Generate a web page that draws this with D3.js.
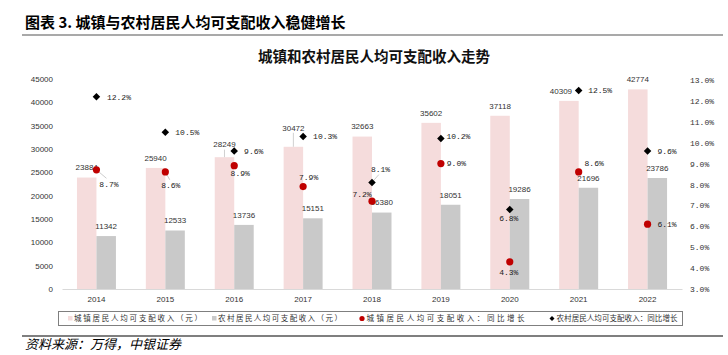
<!DOCTYPE html>
<html>
<head>
<meta charset="utf-8">
<script src="https://cdn.jsdelivr.net/npm/d3@7/dist/d3.min.js"></script>
<style>
html,body{margin:0;padding:0;background:#fff;}
svg{display:block;}
</style>
</head>
<body>
<svg id="c" width="728" height="355"></svg>
<script>
// ---- data ----
const years = ["2014","2015","2016","2017","2018","2019","2020","2021","2022"];
const urbanIncome = [23884, 25940, 28249, 30472, 32663, 35602, 37118, 40309, 42774];
const ruralIncome = [11342, 12533, 13736, 15151, 16380, 18051, 19286, 21696, 23786];
const urbanGrowth = [8.7, 8.6, 8.9, 7.9, 7.2, 9.0, 4.3, 8.6, 6.1];
const ruralGrowth = [12.2, 10.5, 9.6, 10.3, 8.1, 10.2, 6.8, 12.5, 9.6];
const leftTicks = [0,5000,10000,15000,20000,25000,30000,35000,40000,45000];
const rightTicks = [3,4,5,6,7,8,9,10,11,12,13];
const seriesNames = ["城镇居民人均可支配收入（元）","农村居民人均可支配收入（元）","城镇居民人均可支配收入：同比增长","农村居民人均可支配收入：同比增长"];

// ---- label layout (annotation offsets, relative to marks) ----
const urbanBarLabelOff = [[0,-10,0],[0,-10,0],[0,-12.5,1],[0,-19,1],[0,-10,0],[0,-10,0],[0,-10,0],[-8,-10,0],[0,-10,0]];
const redLabelOff = [[12.5,14,1],[5.5,13,1],[6,8,0],[5.5,-9,0],[-10,-7,0],[15.5,0,0],[-1,10,0],[15.5,-9,0],[19.5,0,0]];
const blackLabelOff = [[22.5,0,0],[22,0,0],[19.5,0,0],[22,0,0],[8.5,-13,1],[17.5,-2,0],[-1,9,0],[21.5,0,0],[19.5,0,0]];

const svg = d3.select("#c");
const numFont = "'Liberation Sans', Arial, sans-serif";
const monoFont = "'Liberation Mono', 'DejaVu Sans Mono', monospace";
const cjkFont = "'Noto Sans CJK SC', sans-serif";

// header
svg.append("text").attr("x",25).attr("y",28).attr("font-family",cjkFont)
  .attr("font-size",15).attr("font-weight","bold").attr("fill","#000")
  .text("图表 3. 城镇与农村居民人均可支配收入稳健增长");
svg.append("line").attr("x1",22).attr("x2",723).attr("y1",35).attr("y2",35)
  .attr("stroke","#8c8c8c").attr("stroke-width",1.5);

// title
svg.append("text").attr("x",374).attr("y",62).attr("text-anchor","middle")
  .attr("font-family",cjkFont).attr("font-size",14.5).attr("font-weight","bold").attr("fill","#111")
  .text("城镇和农村居民人均可支配收入走势");

// scales
const x = d3.scaleBand().domain(years).range([62,682]);
const yL = d3.scaleLinear().domain([0,45000]).range([289,79]);
const yR = d3.scaleLinear().domain([3,13]).range([289,80]);
const bw = x.bandwidth()*0.283;
const cx = d => x(d) + x.bandwidth()/2;

// left axis
const gL = svg.append("g").attr("transform","translate(62,0)")
  .call(d3.axisLeft(yL).tickValues(leftTicks).tickSize(0).tickPadding(9).tickFormat(d3.format("d")));
gL.select(".domain").remove();
gL.selectAll("text").attr("font-family",numFont).attr("font-size",8).attr("fill","#333");

// right axis
const gR = svg.append("g").attr("transform","translate(682,0)")
  .call(d3.axisRight(yR).tickValues(rightTicks).tickSize(0).tickPadding(8).tickFormat(d => d.toFixed(1)+"%"));
gR.select(".domain").remove();
gR.selectAll("text").attr("font-family",monoFont).attr("font-size",8).attr("fill","#333");

// bars
svg.append("g").selectAll("rect").data(years).join("rect")
  .attr("x",d=>cx(d)-bw).attr("width",bw)
  .attr("y",(d,i)=>yL(urbanIncome[i])).attr("height",(d,i)=>yL(0)-yL(urbanIncome[i]))
  .attr("fill","#f5dcdc");
svg.append("g").selectAll("rect").data(years).join("rect")
  .attr("x",d=>cx(d)).attr("width",bw)
  .attr("y",(d,i)=>yL(ruralIncome[i])).attr("height",(d,i)=>yL(0)-yL(ruralIncome[i]))
  .attr("fill","#c9c9c9");

// bottom axis
const gB = svg.append("g").attr("transform","translate(0,289)")
  .call(d3.axisBottom(x).tickSize(0).tickPadding(7));
gB.select(".domain").attr("stroke","#d9d9d9").attr("stroke-width",1);
gB.selectAll("text").attr("font-family",numFont).attr("font-size",8).attr("fill","#333");

// bar labels
const lblG = svg.append("g").attr("font-family",numFont).attr("font-size",8).attr("fill","#333").attr("text-anchor","middle");
years.forEach((d,i)=>{
  const o = urbanBarLabelOff[i];
  const bx = cx(d)-bw/2, by = yL(urbanIncome[i]);
  if(o[2]){
    svg.append("line").attr("x1",bx).attr("x2",bx).attr("y1",by).attr("y2",by+o[1]+5)
      .attr("stroke","#d0d0d0").attr("stroke-width",1);
  }
  lblG.append("text").attr("x",bx+o[0]).attr("y",by+o[1]).attr("dy","0.35em").text(urbanIncome[i]);
  const rx = cx(d)+bw/2, ry = yL(ruralIncome[i]);
  lblG.append("text").attr("x",rx).attr("y",ry-10).attr("dy","0.35em").text(ruralIncome[i]);
});

// points
svg.append("g").selectAll("circle").data(years).join("circle")
  .attr("cx",d=>cx(d)).attr("cy",(d,i)=>yR(urbanGrowth[i])).attr("r",3.6).attr("fill","#c00000");
svg.append("g").selectAll("path").data(years).join("path")
  .attr("transform",(d,i)=>`translate(${cx(d)},${yR(ruralGrowth[i])})`)
  .attr("d",d3.symbol().type(d3.symbolDiamond2).size(36)).attr("fill","#000");

// percent labels
const pG = svg.append("g").attr("font-family",monoFont).attr("font-size",8).attr("fill","#222").attr("text-anchor","middle");
function pctLabels(vals, offs){
  years.forEach((d,i)=>{
    const px = cx(d), py = yR(vals[i]);
    const o = offs[i];
    if(o[2]){
      svg.insert("line","g").attr("x1",px).attr("y1",py).attr("x2",px+o[0]*0.8).attr("y2",py+o[1]*0.6)
        .attr("stroke","#bfbfbf").attr("stroke-width",0.8);
    }
    pG.append("text").attr("x",px+o[0]).attr("y",py+o[1]).attr("dy","0.35em").text(vals[i].toFixed(1)+"%");
  });
}
pctLabels(urbanGrowth, redLabelOff);
pctLabels(ruralGrowth, blackLabelOff);

// legend
svg.append("rect").attr("x",58.5).attr("y",311.5).attr("width",624).attr("height",14)
  .attr("fill","#fff").attr("stroke","#7f7f7f").attr("stroke-width",1);
const lg = svg.append("g").attr("font-family",cjkFont).attr("font-size",7.5).attr("fill","#333");
const legX = [68, 212, 361, 551];
const legW = [128, 124, 158, 121];
lg.append("rect").attr("x",legX[0]).attr("y",316).attr("width",4.5).attr("height",4.5).attr("fill","#f5dcdc");
lg.append("rect").attr("x",legX[1]).attr("y",316).attr("width",4.5).attr("height",4.5).attr("fill","#c9c9c9");
lg.append("circle").attr("cx",legX[2]+1).attr("cy",318.5).attr("r",2.6).attr("fill","#c00000");
lg.append("path").attr("transform",`translate(${legX[3]+1},318.5)`).attr("d",d3.symbol().type(d3.symbolDiamond2).size(16)).attr("fill","#000");
seriesNames.forEach((s,i)=>{
  lg.append("text").attr("x",legX[i]+(i<2?6:5.5)).attr("y",318.5).attr("dy","0.35em")
    .attr("textLength",legW[i]).attr("lengthAdjust","spacing").text(s);
});

// footer
svg.append("line").attr("x1",22).attr("x2",723).attr("y1",336).attr("y2",336)
  .attr("stroke","#000").attr("stroke-width",1.2);
svg.append("text").attr("x",25).attr("y",349).attr("font-family",cjkFont)
  .attr("font-size",13).attr("font-style","italic").attr("fill","#000")
  .text("资料来源：万得，中银证券");
</script>
</body>
</html>
